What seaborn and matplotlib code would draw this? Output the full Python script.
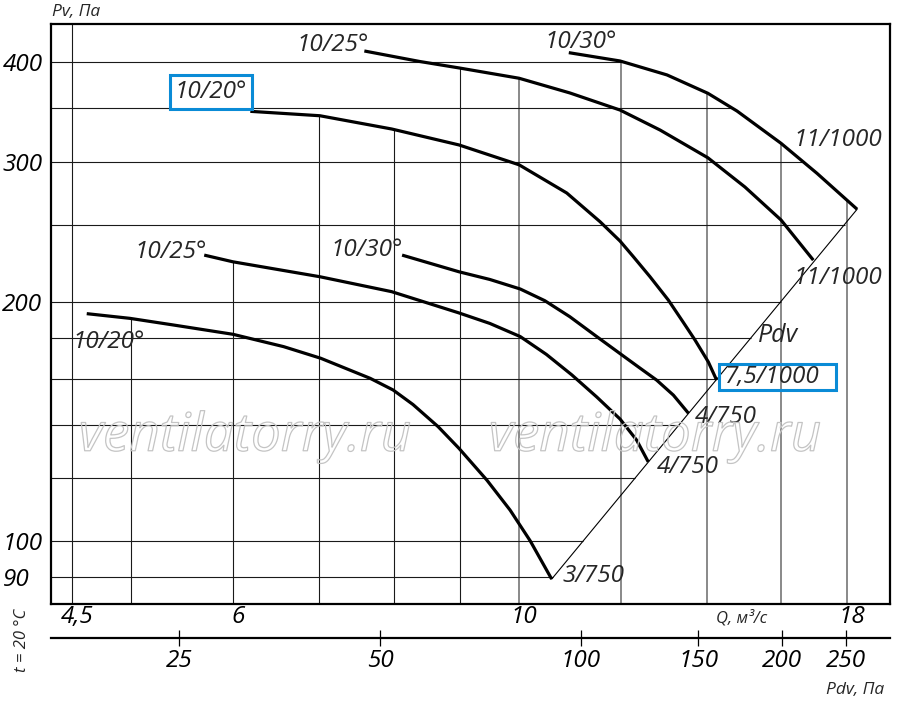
import numpy as np
import pandas as pd
import matplotlib
matplotlib.use('Agg')
import matplotlib.pyplot as plt
import matplotlib.patheffects as pe
from matplotlib.patches import Rectangle
from matplotlib.ticker import NullLocator
from matplotlib.transforms import ScaledTranslation, IdentityTransform
import seaborn as sns

# ---------------- data (Q in m3/s, Pv in Pa) ----------------
curve_ids = ['A', 'B', 'C', 'D', 'E', 'F']
q_A = [4.62, 4.99, 5.39, 6.00, 6.57, 7.02, 7.67, 7.99, 8.28, 8.66, 8.99, 9.45, 9.85, 10.21, 10.61]
p_A = [193.1, 190.5, 186.9, 181.9, 175.5, 169.7, 160.1, 154.8, 148.4, 139.2, 130.7, 119.2, 109.3, 100.0, 89.5]
q_B = [5.70, 6.00, 7.01, 7.97, 8.99, 9.50, 10.03, 10.51, 11.00, 11.50, 11.99, 12.35, 12.61]
p_B = [228.8, 224.4, 214.9, 205.8, 193.5, 187.7, 180.7, 171.6, 161.7, 151.7, 142.3, 133.9, 125.7]
q_C = [8.12, 8.99, 9.50, 10.03, 10.48, 10.96, 11.50, 11.99, 12.42, 12.80, 13.19, 13.55]
p_C = [228.8, 218.0, 213.2, 207.4, 200.5, 191.4, 180.7, 172.0, 165.0, 159.3, 152.5, 144.7]
q_D = [6.19, 7.01, 7.97, 8.99, 10.01, 10.90, 11.57, 11.99, 12.28, 12.65, 13.07, 13.42, 13.71, 14.04, 14.25]
p_D = [347.0, 342.6, 329.7, 314.8, 297.2, 273.9, 252.0, 238.3, 227.7, 214.9, 200.9, 188.5, 178.9, 167.9, 159.3]
q_E = [7.59, 8.38, 8.99, 10.01, 10.96, 11.99, 12.88, 14.03, 14.99, 15.99, 16.94]
p_E = [413.3, 400.9, 393.5, 381.9, 366.0, 348.3, 328.7, 303.3, 278.7, 253.3, 225.5]
q_F = [10.94, 11.99, 13.04, 14.03, 14.78, 15.99, 17.05, 18.32]
p_F = [411.3, 401.5, 385.6, 365.6, 347.3, 316.3, 290.0, 261.3]

start_labels = ['10/20°', '10/25°', '10/30°', '10/20°', '10/25°', '10/30°']
end_labels = ['3/750', '4/750', '4/750', '7,5/1000', '11/1000', '11/1000']

# dynamic-pressure line (Pdv)
pdv_q = [10.61, 18.32]
pdv_p = [89.5, 261.3]

# grid
vgrid_q = [4.5, 5, 6, 7, 8, 9, 10, 12, 14, 16, 18]
vgrid_stop = [None, 'A', 'B', 'D', 'D', 'E', 'E', 'F', 'F', 'F', 'F']
hgrid_p = [90, 100, 120, 140, 160, 180, 200, 250, 300, 350, 400]
hgrid_stop = 'F'

# axis ticks
q_ticks = [4.5, 6, 10, 18]
q_ticklabels = ['4,5', '6', '10', '18']
p_ticks = [90, 100, 200, 300, 400]
p_ticklabels = ['90', '100', '200', '300', '400']
pdv_ticks = [25, 50, 100, 150, 200, 250]
pdv_ticklabels = ['25', '50', '100', '150', '200', '250']

# ---------------- style ----------------
sns.set_theme(style='white')
plt.rcParams['font.family'] = ['Open Sans', 'DejaVu Sans']
plt.rcParams['font.style'] = 'italic'

W, H = 900, 712
BLUE = '#0a8bd6'
FS = 17.5

fig = plt.figure(figsize=(W / 100, H / 100), dpi=100)
fig.patch.set_facecolor('white')
ax = fig.add_axes([51 / W, 1 - 604 / H, 839 / W, 580 / H])
ax.set_facecolor('white')
ax.set_xscale('log')
ax.set_yscale('log')
XL = (4.334, 19.43)
YL = (83.27, 446.9)
ax.set_xlim(*XL)
ax.set_ylim(*YL)

curves = {'A': (q_A, p_A), 'B': (q_B, p_B), 'C': (q_C, p_C),
          'D': (q_D, p_D), 'E': (q_E, p_E), 'F': (q_F, p_F)}

df = pd.concat([pd.DataFrame({'Q': curves[c][0], 'P': curves[c][1], 'curve': c})
                for c in curve_ids], ignore_index=True)


def p_on(cid, q):
    cq, cp = curves[cid]
    return float(np.exp(np.interp(np.log(q), np.log(cq), np.log(cp))))


def q_on(cid, p):
    cq, cp = curves[cid]
    if p < min(cp) or p > max(cp):
        return np.inf
    return float(np.exp(np.interp(np.log(p), np.log(cp[::-1]), np.log(cq[::-1]))))


lq0, lq1 = np.log(pdv_q)
lp0, lp1 = np.log(pdv_p)


def q_pdv(p):
    return float(np.exp(lq0 + (np.log(p) - lp0) * (lq1 - lq0) / (lp1 - lp0)))


# grid lines bounded by the working region
for q, stop in zip(vgrid_q, vgrid_stop):
    top = YL[1] if stop is None else p_on(stop, q)
    col = '#1a1a1a' if q < 10 else '#6a6a6a'
    lw = 0.8 if q < 10 else 1.1
    ax.vlines(q, YL[0], top, color=col, lw=lw, zorder=1)
for p in hgrid_p:
    end = min(q_pdv(p), q_on(hgrid_stop, p), XL[1])
    ax.hlines(p, XL[0], end, color='#1a1a1a', lw=0.8, zorder=1)

# watermark
for cx in (245, 655):
    fig.text(cx / W, 1 - 437 / H, 'ventilatorry.ru', ha='center', va='center',
             fontsize=38, color=(1, 1, 1, 0), family=['Open Sans', 'DejaVu Sans'],
             path_effects=[pe.Stroke(linewidth=0.9, foreground='#c4c4c4')], zorder=2)

# Pdv line
ax.plot(pdv_q, pdv_p, color='black', lw=0.8, zorder=3)

# fan curves
sns.lineplot(data=df, x='Q', y='P', hue='curve', palette={c: 'black' for c in curve_ids},
             estimator=None, sort=False, legend=False, lw=2.3, ax=ax, zorder=4,
             solid_joinstyle='round', solid_capstyle='butt')

# curve labels
start_off = {'A': ('left', -14, -28), 'B': ('right', 3, 3), 'C': ('right', 1, 5),
             'D': ('right', -3, 19), 'E': ('right', 4, 6), 'F': ('left', -24, 11)}
end_off = {'A': (11, 3), 'B': (9, -5), 'C': (6, -4), 'D': (8, 3), 'E': (-20, -18), 'F': (-64, 69)}
boxed_end = None
for c, sl, el in zip(curve_ids, start_labels, end_labels):
    cq, cp = curves[c]
    ha, dx, dy = start_off[c]
    kw = {}
    if c == 'D':
        kw['bbox'] = dict(boxstyle='square,pad=0.2', fc='white', ec=BLUE, lw=2.2)
    ax.annotate(sl, (cq[0], cp[0]), xytext=(dx, dy), textcoords='offset pixels',
                ha=ha, va='center', fontsize=FS, zorder=5, **kw)
    dx, dy = end_off[c]
    t = ax.annotate(el, (cq[-1], cp[-1]), xytext=(dx, dy), textcoords='offset pixels',
                    ha='left', va='center', fontsize=FS, zorder=6)
    if c == 'D':
        boxed_end = t

# Pdv label next to the line
ax.annotate('Pdv', (q_pdv(181.5), 181.5), xytext=(5, 0), textcoords='offset pixels',
            ha='left', va='center', fontsize=FS + 0.5, zorder=5)

# axes, ticks
ax.xaxis.set_minor_locator(NullLocator())
ax.yaxis.set_minor_locator(NullLocator())
ax.set_xticks(q_ticks)
ax.set_xticklabels(q_ticklabels)
ax.set_yticks(p_ticks)
ax.set_yticklabels(p_ticklabels)
ax.tick_params(axis='both', length=0, labelsize=FS, colors='black')
ax.tick_params(axis='x', pad=1)
ax.tick_params(axis='y', pad=35)
for lab in ax.get_yticklabels():
    lab.set_horizontalalignment('left')
shift = ScaledTranslation(5 / 100, 0, fig.dpi_scale_trans)
for lab in ax.get_xticklabels():
    lab.set_transform(lab.get_transform() + shift)
ax.set_xlabel('')
ax.set_ylabel('')
for s in ax.spines.values():
    s.set_visible(True)
    s.set_color('black')
    s.set_linewidth(1.6)

# Pdv scale below
ax2 = fig.add_axes([51 / W, 1 - 637.5 / H, 839 / W, 0.0001])
ax2.set_facecolor('none')
ax2.set_xscale('log')
ax2.set_xlim(16.06, 290.6)
ax2.xaxis.set_minor_locator(NullLocator())
ax2.set_xticks(pdv_ticks)
ax2.set_xticklabels(pdv_ticklabels)
ax2.set_yticks([])
for k in ('top', 'left', 'right'):
    ax2.spines[k].set_visible(False)
ax2.spines['bottom'].set_linewidth(1.6)
ax2.spines['bottom'].set_color('black')
ax2.tick_params(axis='x', direction='inout', length=11, width=0.9, pad=3,
                labelsize=FS, colors='black', bottom=True)

# axis titles
fig.text(52 / W, 1 - 12 / H, 'Pv, Па', ha='left', va='center', fontsize=12.5)
fig.text(742 / W, 1 - 618 / H, 'Q, м³/с', ha='center', va='center', fontsize=12)
fig.text(884 / W, 1 - 690 / H, 'Pdv, Па', ha='right', va='center', fontsize=12.5)
fig.text(22 / W, 1 - 640 / H, 't = 20 °C', ha='center', va='center', fontsize=12, rotation=90)

# blue frame around the 7,5/1000 label (wider on the right, as in the original)
fig.canvas.draw()
bb = boxed_end.get_window_extent()
fig.add_artist(Rectangle((bb.x0 - 6, bb.y0 - 1), bb.width + 23, bb.height + 2,
                         transform=IdentityTransform(), fill=False, ec=BLUE, lw=2.2,
                         zorder=7))

fig.savefig('out.png', dpi=100, facecolor='white')
